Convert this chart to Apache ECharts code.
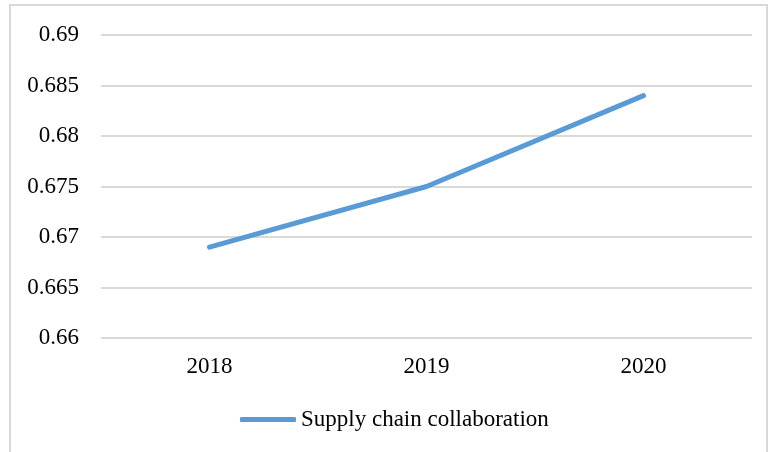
<!DOCTYPE html>
<html>
<head>
<meta charset="utf-8">
<script src="https://cdn.jsdelivr.net/npm/echarts@6/dist/echarts.min.js"></script>
<style>
  html, body { margin: 0; padding: 0; background: #fff; }
  #chart { width: 770px; height: 452px; }
</style>
</head>
<body>
<div id="chart"></div>
<script>
var years = ["2018", "2019", "2020"];
var collaboration = [0.669, 0.675, 0.684];

var chart = echarts.init(document.getElementById("chart"));
chart.setOption({
  animation: false,
  textStyle: { fontFamily: "Liberation Serif" },
  graphic: [
    {
      type: "rect",
      shape: { x: 10, y: 5, width: 757, height: 450 },
      style: { fill: "none", stroke: "#d9d9d9", lineWidth: 2 }
    }
  ],
  grid: { left: 101, right: 18, top: 35, bottom: 114 },
  legend: {
    left: 235,
    top: 403,
    icon: "roundRect",
    itemWidth: 56,
    itemHeight: 5,
    textStyle: { fontFamily: "Liberation Serif", fontSize: 23, color: "#000" },
    data: ["Supply chain collaboration"]
  },
  xAxis: {
    type: "category",
    data: years,
    axisLine: { show: false },
    axisTick: { show: false },
    axisLabel: { color: "#000", fontSize: 23, margin: 17, fontFamily: "Liberation Serif" }
  },
  yAxis: {
    type: "value",
    min: 0.66,
    max: 0.69,
    interval: 0.005,
    axisLine: { show: false },
    axisTick: { show: false },
    splitLine: { lineStyle: { color: "#d9d9d9", width: 2 } },
    axisLabel: { color: "#000", fontSize: 23, margin: 22, fontFamily: "Liberation Serif" }
  },
  series: [
    {
      name: "Supply chain collaboration",
      type: "line",
      data: collaboration,
      symbol: "none",
      lineStyle: { color: "#5b9bd5", width: 5, cap: "round" },
      itemStyle: { color: "#5b9bd5" }
    }
  ]
});
</script>
</body>
</html>
